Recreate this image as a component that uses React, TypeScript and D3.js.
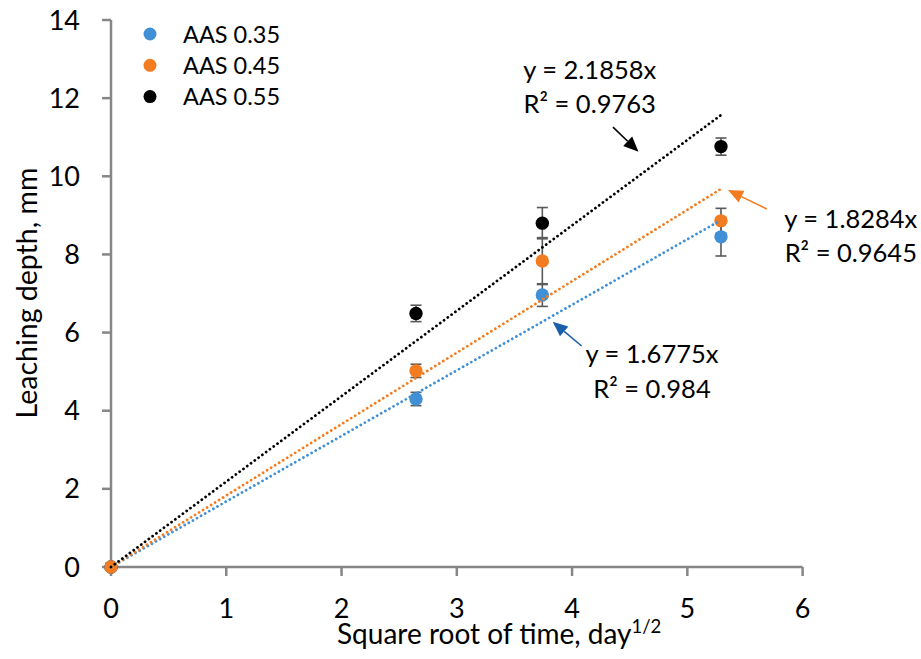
import React from "react";
import * as d3 from "d3";

const sqrtTime = [0, 2.646, 3.742, 5.292];
const seriesNames = ["AAS 0.35", "AAS 0.45", "AAS 0.55"];
const aas035 = [0, 4.3, 6.96, 8.45];
const aas045 = [0, 5.02, 7.83, 8.86];
const aas055 = [0, 6.49, 8.8, 10.76];
const err035 = [0, 0.17, 0.29, 0.49];
const err045 = [0, 0.17, 0.6, 0.32];
const err055 = [0, 0.21, 0.4, 0.22];
const slopes = [1.6775, 1.8284, 2.1858];
const r2 = ["0.984", "0.9645", "0.9763"];
const colors = ["#4190d6", "#f47c20", "#000000"];
const arrowColors = ["#1b5faa", "#f47c20", "#000000"];
const xTicks = [0, 1, 2, 3, 4, 5, 6];
const yTicks = [0, 2, 4, 6, 8, 10, 12, 14];

// annotation anchors in data units: [textCenterX, line1Y, line2Y, arrowTailX, arrowTailY, arrowTipX, arrowTipY]
const annotations = [
  [4.693, 5.221, 4.326, 4.083, 5.656, 3.832, 6.278],
  [6.418, 8.677, 7.814, 5.689, 9.163, 5.353, 9.649],
  [4.153, 12.49, 11.63, 4.355, 11.26, 4.576, 10.63],
];

const W = 921;
const H = 659;
const FONT = "Lato, 'Open Sans', sans-serif";

export default function App() {
  const x = d3.scaleLinear().domain([0, 6]).range([111, 802.6]);
  const y = d3.scaleLinear().domain([0, 14]).range([567, 20]);
  const values = [aas035, aas045, aas055];
  const errs = [err035, err045, err055];
  const drawOrder = [2, 0, 1];
  const axisColor = "#868686";
  const xMax = d3.max(sqrtTime) as number;

  const line = d3
    .line<[number, number]>()
    .x((d) => x(d[0]))
    .y((d) => y(d[1]));

  return (
    <svg
      width={W}
      height={H}
      style={{ position: "absolute", left: 0, top: 0, background: "#fff" }}
      fontFamily={FONT}
    >
      <rect width={W} height={H} fill="#fff" />
      {/* axes */}
      <line x1={x(0)} x2={x(6)} y1={y(0)} y2={y(0)} stroke={axisColor} strokeWidth={2.5} />
      <line x1={x(0)} x2={x(0)} y1={y(0)} y2={y(14)} stroke={axisColor} strokeWidth={2.5} />
      {xTicks.map((t) => (
        <g key={"xt" + t}>
          <line x1={x(t)} x2={x(t)} y1={y(0)} y2={y(0) + 9} stroke={axisColor} strokeWidth={2.5} />
          <text x={x(t)} y={618} textAnchor="middle" fontSize={27} fill="#000">
            {t}
          </text>
        </g>
      ))}
      {yTicks.map((t) => (
        <g key={"yt" + t}>
          <line x1={x(0) - 9} x2={x(0)} y1={y(t)} y2={y(t)} stroke={axisColor} strokeWidth={2.5} />
          <text x={80} y={y(t) + 9.5} textAnchor="end" fontSize={27} fill="#000">
            {t}
          </text>
        </g>
      ))}
      {/* axis titles */}
      <text x={337} y={644} fontSize={28} fill="#000">
        Square root of time, day
        <tspan fontSize={18.5} dy={-11}>
          1/2
        </tspan>
      </text>
      <text
        transform={`translate(37, 293) rotate(-90)`}
        textAnchor="middle"
        fontSize={28.5}
        fill="#000"
      >
        Leaching depth, mm
      </text>

      {/* error bars and markers */}
      {drawOrder.map((si) => (
        <g key={"s" + si}>
          {sqrtTime.map((t, i) => {
            const v = values[si][i];
            const e = errs[si][i];
            if (e <= 0) return null;
            return (
              <g key={"e" + i} stroke="#595959" strokeWidth={1.6}>
                <line x1={x(t)} x2={x(t)} y1={y(v - e)} y2={y(v + e)} />
                <line x1={x(t) - 5.5} x2={x(t) + 5.5} y1={y(v - e)} y2={y(v - e)} />
                <line x1={x(t) - 5.5} x2={x(t) + 5.5} y1={y(v + e)} y2={y(v + e)} />
              </g>
            );
          })}
        </g>
      ))}
      {drawOrder.map((si) => (
        <g key={"m" + si}>
          {sqrtTime.map((t, i) => (
            <circle key={i} cx={x(t)} cy={y(values[si][i])} r={6.7} fill={colors[si]} />
          ))}
        </g>
      ))}

      {/* trend lines */}
      {slopes.map((s, si) => (
        <path
          key={"tl" + si}
          d={line([
            [0, 0],
            [xMax, s * xMax],
          ]) as string}
          fill="none"
          stroke={colors[si]}
          strokeWidth={2.8}
          strokeLinecap="round"
          strokeDasharray="0.01 4.7"
        />
      ))}

      {/* annotations */}
      {annotations.map((a, si) => {
        const [cx, l1, l2, tx, ty, hx, hy] = a;
        const x0 = x(tx);
        const y0 = y(ty);
        const x1 = x(hx);
        const y1 = y(hy);
        const ang = Math.atan2(y1 - y0, x1 - x0);
        const hl = 15;
        const hw = 6.5;
        const bx = x1 - hl * Math.cos(ang);
        const by = y1 - hl * Math.sin(ang);
        const px = -Math.sin(ang) * hw;
        const py = Math.cos(ang) * hw;
        return (
          <g key={"an" + si}>
            <text x={x(cx)} y={y(l1)} textAnchor="middle" fontSize={25.5} fill="#000">
              {`y = ${slopes[si]}x`}
            </text>
            <text x={x(cx)} y={y(l2)} textAnchor="middle" fontSize={25.5} fill="#000">
              {`R² = ${r2[si]}`}
            </text>
            <line x1={x0} y1={y0} x2={bx} y2={by} stroke={arrowColors[si]} strokeWidth={1.6} />
            <polygon
              points={`${x1},${y1} ${bx + px},${by + py} ${bx - px},${by - py}`}
              fill={arrowColors[si]}
            />
          </g>
        );
      })}

      {/* legend */}
      {seriesNames.map((n, i) => (
        <g key={"lg" + i}>
          <circle cx={150} cy={34 + i * 31.3} r={6.5} fill={colors[i]} />
          <text x={183} y={34 + i * 31.3 + 8.5} fontSize={23.5} fill="#000">
            {n}
          </text>
        </g>
      ))}
    </svg>
  );
}
